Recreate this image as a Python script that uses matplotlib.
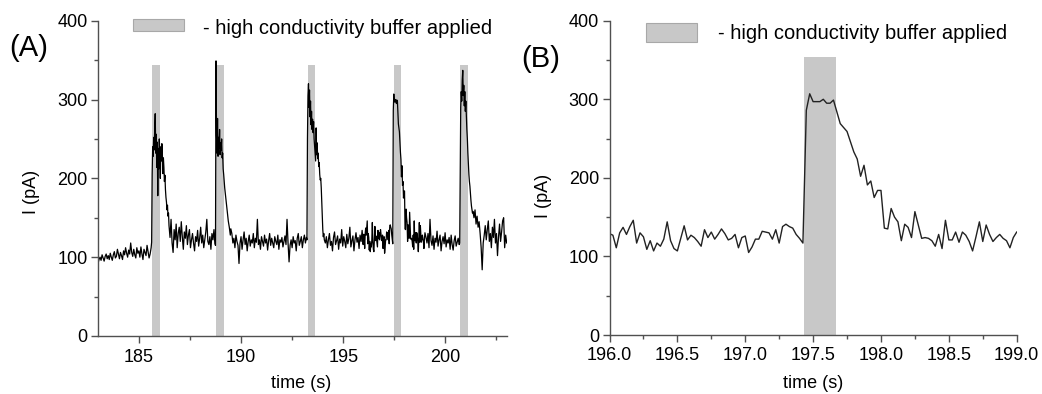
import numpy as np
import matplotlib
matplotlib.use("Agg")
import matplotlib.pyplot as plt
from matplotlib.patches import Rectangle

plt.rcParams['font.family'] = ['Liberation Sans', 'DejaVu Sans']

# ---------------- data ----------------
# Panel A: trace split in segments (start time, end time, values)
a_seg0_t = (183.00, 185.60)
a_seg0 = [92, 97, 100, 96, 103, 99, 95, 101, 104, 98, 102, 97, 105, 100, 96, 103, 107, 99, 101, 110,
          104, 98, 106, 102, 97, 108, 103, 112, 105, 100, 109, 104, 118, 106, 101, 110, 103, 99, 112, 105,
          108, 100, 113, 104, 97, 110, 106, 102, 115, 107, 99, 104, 112]
a_seg1_t = (185.625, 186.45)
a_seg1 = [119, 205, 240, 228, 252, 236, 262, 282, 232, 256, 214, 246, 178, 238, 212, 250, 228, 200, 240, 222,
          244, 230, 206, 226, 214, 196, 204, 186, 176, 170, 160, 166, 152, 156]
a_seg2_t = (186.475, 188.725)
a_seg2 = [140, 125, 148, 118, 106, 135, 122, 142, 112, 130, 138, 120, 145, 126, 110, 132, 124, 140, 116, 128,
          135, 112, 122, 130, 118, 108, 126, 120, 134, 114, 124, 138, 118, 128, 112, 122, 132, 148, 120, 116,
          126, 110, 130, 122, 135, 117]
a_seg3_t = (188.75, 189.50)
a_seg3 = [115, 349, 255, 232, 276, 228, 252, 238, 262, 230, 245, 236, 250, 226, 232, 212, 205, 196, 188, 182,
          175, 170, 163, 158, 152, 146, 142, 138, 133, 128, 136]
a_seg4_t = (189.55, 193.20)
a_seg4 = [130, 118, 124, 112, 128, 120, 115, 92, 118, 126, 110, 122, 132, 116, 124, 108, 120, 128, 114, 122,
          118, 130, 112, 124, 119, 148, 116, 122, 110, 126, 120, 114, 128, 118, 123, 109, 121, 130, 115, 124,
          118, 112, 126, 120, 116, 128, 110, 122, 119, 125, 113, 120, 127, 116, 148, 118, 94, 115, 122, 112,
          126, 118, 121, 108, 124, 130, 115, 120, 126, 112, 122, 128, 118, 125]
a_seg5_t = (193.225, 194.075)
a_seg5 = [122, 250, 305, 320, 290, 312, 278, 298, 268, 285, 262, 275, 258, 272, 250, 240, 232, 222, 264, 230,
          245, 225, 232, 215, 220, 205, 198, 200, 188, 170, 150, 135, 126, 130, 122]
a_seg6_t = (194.125, 195.975)
a_seg6 = [118, 126, 112, 122, 130, 115, 120, 108, 125, 132, 116, 121, 127, 110, 123, 118, 135, 114, 126, 120,
          112, 129, 117, 124, 138, 113, 121, 127, 108, 122, 131, 119, 125, 111, 128, 120, 134, 116]
a_seg8_t = (199.05, 200.675)
a_seg8 = [125, 118, 130, 112, 148, 121, 115, 127, 110, 124, 119, 133, 114, 122, 128, 108, 120, 126, 117, 131,
          113, 122, 118, 125, 110, 128, 116, 109, 121, 127, 114, 119, 124, 116]
a_seg9_t = (200.70, 201.325)
a_seg9 = [118, 200, 290, 310, 298, 325, 337, 305, 318, 292, 310, 285, 298, 278, 262, 250, 232, 218, 205, 196,
          190, 180, 172, 165, 160, 156]
a_seg10_t = (201.35, 203.00)
a_seg10 = [158, 150, 160, 142, 152, 138, 145, 130, 112, 84, 118, 128, 140, 122, 135, 146, 120, 130, 112, 138,
           125, 148, 118, 130, 102, 126, 142, 120, 132, 146, 150, 112, 128, 118]

# Panel B: 196.0 - 199.0 s, sampled every 0.025 s
b_range = (196.0, 199.0)
b_current = [129, 127, 111, 130, 137, 128, 138, 146, 117, 130, 125, 109, 120, 107, 117, 113, 122, 144, 120, 110,
             107, 123, 139, 121, 127, 124, 119, 113, 134, 124, 131, 122, 128, 135, 129, 121, 123, 128, 111, 124,
             126, 105, 112, 122, 122, 132, 131, 130, 122, 134, 117, 138, 141, 138, 136, 128, 123, 117,
             286,
             307, 297, 297, 297, 300, 295, 295, 299, 284, 269, 264, 259, 246, 233, 224, 202, 216, 191, 196, 175,
             184, 184, 136, 135, 161, 150, 144, 120, 141, 137, 124, 157, 140, 123, 124, 123, 120, 113, 128, 110,
             146, 121, 121, 131, 118, 131, 127, 119, 107, 125, 144, 119, 140, 128, 119, 124, 128, 123, 120, 111,
             124, 131]

# buffer-application intervals
a_band_start = [185.65, 188.78, 193.27, 197.47, 200.72]
a_band_end = [186.02, 189.16, 193.63, 197.84, 201.10]
a_band_top = 344
b_band_start = [197.434]
b_band_end = [197.667]
b_band_top = 354

legend_text = "- high conductivity buffer applied"

# ---------------- build series ----------------
b_time = np.linspace(b_range[0], b_range[1], len(b_current))

segs = [(a_seg0_t, a_seg0), (a_seg1_t, a_seg1), (a_seg2_t, a_seg2), (a_seg3_t, a_seg3),
        (a_seg4_t, a_seg4), (a_seg5_t, a_seg5), (a_seg6_t, a_seg6)]
a_t, a_v = [], []
for (t0, t1), vals in segs:
    a_t.extend(np.linspace(t0, t1, len(vals)))
    a_v.extend(vals)
a_t.extend(b_time)
a_v.extend(b_current)
for (t0, t1), vals in [(a_seg8_t, a_seg8), (a_seg9_t, a_seg9), (a_seg10_t, a_seg10)]:
    a_t.extend(np.linspace(t0, t1, len(vals)))
    a_v.extend(vals)

# ---------------- figure ----------------
W, H = 1042, 394
fig = plt.figure(figsize=(W / 100, H / 100), dpi=100)

def px_axes(l, r, t, b):
    return fig.add_axes([l / W, (H - b) / H, (r - l) / W, (b - t) / H])

axA = px_axes(98, 506.7, 20.7, 336)
axB = px_axes(609.5, 1016.7, 20.7, 335)

band_color = '#c8c8c8'
spine_color = '#505050'

for ax in (axA, axB):
    for s in ('top', 'right'):
        ax.spines[s].set_visible(False)
    for s in ('left', 'bottom'):
        ax.spines[s].set_color(spine_color)
        ax.spines[s].set_linewidth(1.0)
    ax.set_ylim(0, 400)
    ax.set_yticks([0, 100, 200, 300, 400])
    ax.set_yticks([50, 150, 250, 350], minor=True)
    ax.tick_params(which='major', direction='out', length=5, width=1.0, color=spine_color,
                   labelsize=13, pad=2.5, labelcolor='black')
    ax.tick_params(which='minor', direction='out', length=2.6, width=1.0, color=spine_color)
    ax.tick_params(axis='x', which='major', pad=4)

# Panel A
for s0, s1 in zip(a_band_start, a_band_end):
    axA.axvspan(s0, s1, ymin=0, ymax=a_band_top / 400, color=band_color, lw=0, zorder=1)
axA.plot(a_t, a_v, color='black', lw=0.9, zorder=2)
axA.set_xlim(183, 203)
axA.set_xticks([185, 190, 195, 200])
axA.set_xticks([187.5, 192.5, 197.5, 202.5], minor=True)

# Panel B
for s0, s1 in zip(b_band_start, b_band_end):
    axB.axvspan(s0, s1, ymin=0, ymax=b_band_top / 400, color=band_color, lw=0, zorder=1)
axB.plot(b_time, b_current, color='#222222', lw=1.0, zorder=2)
axB.set_xlim(196, 199)
axB.set_xticks(np.arange(196, 199.01, 0.5))
axB.set_xticks(np.arange(196.25, 199, 0.5), minor=True)
axB.xaxis.set_major_formatter(matplotlib.ticker.FormatStrFormatter('%.1f'))

# labels
def ftxt(x, y, s, **kw):
    fig.text(x / W, (H - y) / H, s, **kw)

ftxt(301.5, 383, "time (s)", ha='center', va='center', fontsize=13)
ftxt(813, 383, "time (s)", ha='center', va='center', fontsize=13)
ftxt(31, 192, "I (pA)", ha='center', va='center', rotation=90, fontsize=13)
ftxt(543, 196, "I (pA)", ha='center', va='center', rotation=90, fontsize=13)
ftxt(9, 48, "(A)", ha='left', va='center', fontsize=21)
ftxt(521, 59, "(B)", ha='left', va='center', fontsize=21)

# legends
def legend_box(l, r, t, b, tx, ty):
    fig.add_artist(Rectangle((l / W, (H - b) / H), (r - l) / W, (b - t) / H,
                             transform=fig.transFigure, facecolor=band_color,
                             edgecolor='#a8a8a8', lw=0.8))
    ftxt(tx, ty, legend_text, ha='left', va='baseline', fontsize=14.5)

legend_box(133.3, 184, 19.3, 30.7, 203.3, 34)
legend_box(646, 696.7, 22.7, 42.3, 718.3, 39)

fig.savefig("out.png", dpi=100)
